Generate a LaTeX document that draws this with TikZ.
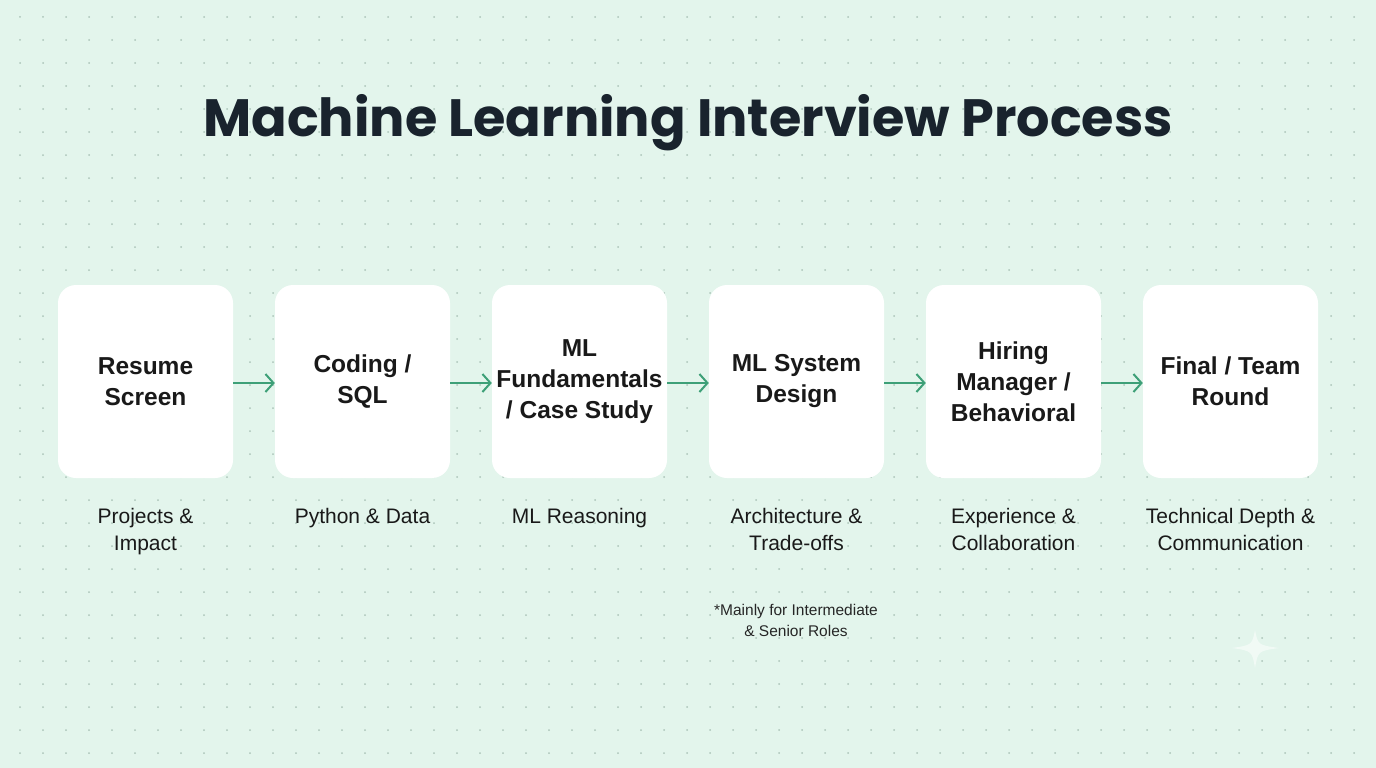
\documentclass[tikz,border=0pt]{standalone}
\usepackage{fontspec}
\usetikzlibrary{arrows.meta}
\setmainfont{Liberation Sans}
\newfontfamily\titlefont{Poppins}[UprightFont=* Bold]
\begin{document}
\begin{tikzpicture}[x=1pt,y=-1pt,
  box/.style={fill=white,rounded corners=18pt,minimum width=175pt,minimum height=193pt,inner sep=0pt,
    align=center,font=\bfseries\fontsize{24.5}{31}\selectfont,text=black!90},
  captxt/.style={align=center,font=\fontsize{21}{27}\selectfont,text=black!90},
  arr/.style={draw={rgb,255:red,62;green,160;blue,120},line width=2pt,-{Straight Barb[length=8pt,width=18pt]}}]
\definecolor{bg}{RGB}{227,245,236}
\definecolor{dot}{RGB}{172,196,185}
\fill[bg] (0,0) rectangle (1376,768);
\useasboundingbox (0,0) rectangle (1376,768);
\foreach \i in {0,...,59}{\foreach \j in {0,...,33}{
  \fill[dot] (20+23*\i,17+23*\j) circle (1pt);}}
\fill[white,opacity=0.5] (1255,630) .. controls (1258,645) .. (1279,648) .. controls (1258,651) .. (1255,668) .. controls (1252,651) .. (1232,648) .. controls (1252,645) .. (1255,630) -- cycle;
\node[font=\titlefont\fontsize{52.5}{60}\selectfont,text={rgb,255:red,25;green,35;blue,45}] (title) at (688,123) {Machine Learning Interview Process};
\foreach \n/\x/\t/\c in {a/145.5/{Resume\\Screen}/{Projects \&\\Impact},
  b/362.5/{Coding /\\SQL}/{Python \& Data\\\strut},
  c/579.5/{ML\\Fundamentals\\/ Case Study}/{ML Reasoning\\\strut},
  d/796.5/{ML System\\Design}/{Architecture \&\\Trade-offs},
  e/1013.5/{Hiring\\Manager /\\Behavioral}/{Experience \&\\Collaboration},
  f/1230.5/{Final / Team\\Round}/{Technical Depth \&\\Communication}}{
  \node[box] (\n) at (\x,381.5) {\t};
  \node[captxt,anchor=north] (\n c) at (\x,505) {\c};
}
\foreach \p/\q in {a/b,b/c,c/d,d/e,e/f}{\draw[arr] (\p.east) ++(0,1.5) coordinate (s\p) -- (s\p -| \q.west);}
\node[align=center,font=\fontsize{15.5}{21}\selectfont,text=black!85] (note) at (796,620) {*Mainly for Intermediate\\\& Senior Roles};
\end{tikzpicture}
\end{document}
